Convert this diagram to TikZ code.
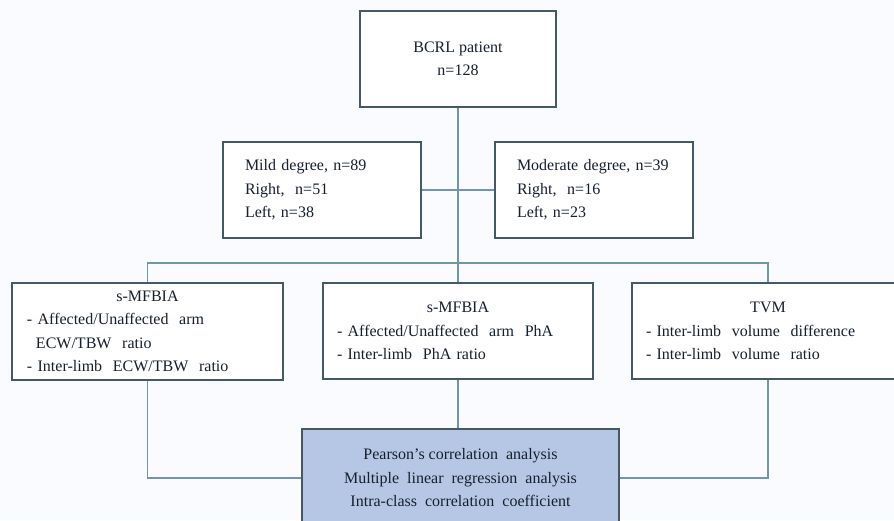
\documentclass[tikz,border=0pt]{standalone}
\usepackage{fontspec}
\setmainfont{Liberation Serif}
\definecolor{boxedge}{RGB}{70,88,98}
\definecolor{linkblue}{RGB}{112,150,168}
\definecolor{fillblue}{RGB}{182,199,230}
\definecolor{inkdark}{RGB}{22,32,44}
\definecolor{paper}{RGB}{250,251,254}
\tikzset{
  stagebox/.style={draw=boxedge, line width=1.3pt, fill=white, text=inkdark,
    inner ysep=0pt, font=\fontsize{16}{23.5}\selectfont},
  listbox/.style={stagebox, align=left, inner xsep=#1},
  link/.style={draw=linkblue, line width=1.1pt},
}
\newcommand{\headline}[1]{\makebox[\hsize][c]{#1}}
\begin{document}
\begin{tikzpicture}[x=1pt,y=-1pt]
  \useasboundingbox[fill=paper] (0,0) rectangle (894,520);

  % patients and severity groups
  \node[stagebox, align=center, minimum width=196pt, minimum height=96pt] (patient) at (458,59)
    {BCRL patient\\n=128};
  \node[listbox=22pt, text width=154pt, minimum height=96pt] (mild) at (322,190)
    {Mild degree, n=89\\Right,~ n=51\\Left, n=38};
  \node[listbox=22pt, text width=154pt, minimum height=96pt] (moderate) at (594,190)
    {Moderate degree, n=39\\Right,~ n=16\\Left, n=23};

  % measurements
  \node[listbox=15pt, text width=241pt, minimum height=97pt] (ecwbox) at (147.5,331.5)
    {\headline{s-MFBIA}\\- Affected/Unaffected~ arm\\\hspace*{9pt}ECW/TBW~ ratio\\- Inter-limb~ ECW/TBW~ ratio};
  \node[listbox=14pt, text width=242pt, minimum height=96pt] (phabox) at (458,331)
    {\headline{s-MFBIA}\\- Affected/Unaffected~ arm~ PhA\\- Inter-limb~ PhA ratio};
  \node[listbox=14pt, text width=244pt, minimum height=96pt] (tvmbox) at (768,331)
    {\headline{TVM}\\- Inter-limb~ volume~ difference\\- Inter-limb~ volume~ ratio};

  % analysis
  \node[stagebox, fill=fillblue, align=center, minimum width=317pt, minimum height=98pt] (stats) at (460.5,478)
    {Pearson's correlation~ analysis\\Multiple~ linear~ regression~ analysis\\Intra-class~ correlation~ coefficient};

  \coordinate (branch) at (458,263);

  % connectors
  \draw[link] (patient) -- (branch);
  \draw[link] (mild) -- (moderate);
  \draw[link] (ecwbox.north) |- (branch) -| (tvmbox.north);
  \draw[link] (branch) -- (phabox);
  \draw[link] (ecwbox.south) |- (stats.west);
  \draw[link] (tvmbox.south) |- (stats.east);
  \draw[link] (phabox.south) -- (phabox.south |- stats.north);
\end{tikzpicture}
\end{document}
